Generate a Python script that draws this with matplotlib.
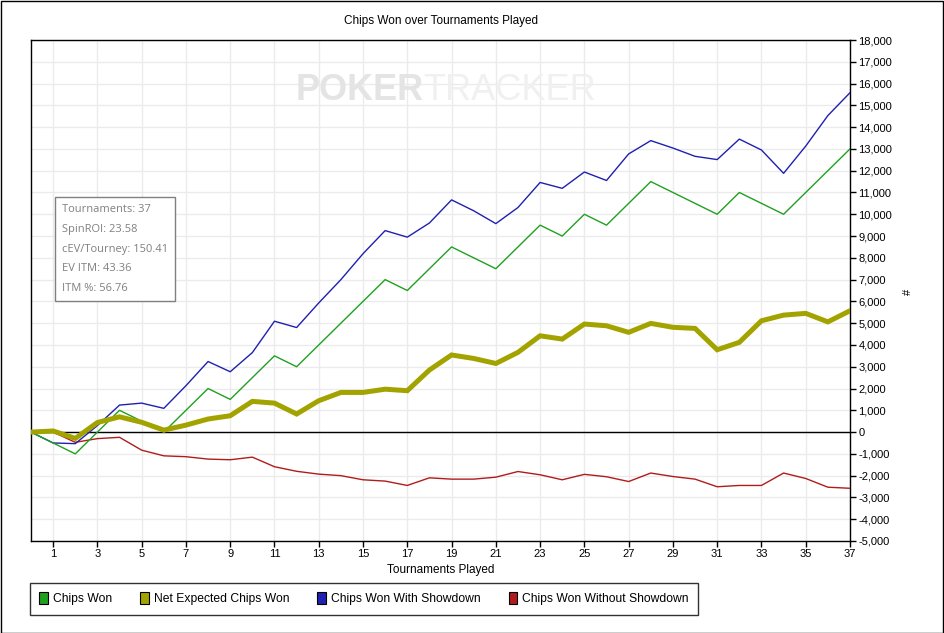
import matplotlib
matplotlib.use("Agg")
import matplotlib.pyplot as plt
from matplotlib.patches import Patch, Rectangle
from matplotlib.ticker import FuncFormatter, MultipleLocator

plt.rcParams['font.family'] = ['Liberation Sans', 'DejaVu Sans']

tournaments = list(range(0, 38))
chips_won = [0, -500, -1000, 0, 1000, 500, 0, 1000, 2000, 1500, 2500, 3500, 3000, 4000,
             5000, 6000, 7000, 6500, 7500, 8500, 8000, 7500, 8500, 9500, 9000, 10000,
             9500, 10500, 11500, 11000, 10500, 10000, 11000, 10500, 10000, 11000, 12000, 13000]
net_expected = [0, 50, -290, 440, 700, 450, 90, 320, 600, 750, 1410, 1330, 830, 1440,
                1820, 1820, 1970, 1900, 2850, 3540, 3380, 3150, 3660, 4420, 4270, 4960,
                4880, 4580, 4990, 4810, 4760, 3780, 4120, 5110, 5370, 5450, 5060, 5570]
with_showdown = [0, -500, -530, 300, 1240, 1330, 1090, 2130, 3240, 2770, 3650, 5090, 4800, 5930,
                 7000, 8190, 9250, 8950, 9600, 10660, 10160, 9570, 10310, 11460, 11190, 11940,
                 11550, 12770, 13380, 13040, 12660, 12510, 13450, 12950, 11880, 13130, 14530, 15580]
without_showdown = [0, 0, -470, -300, -240, -830, -1090, -1130, -1240, -1270, -1150, -1590, -1800, -1930,
                    -2000, -2190, -2250, -2450, -2100, -2160, -2160, -2070, -1810, -1960, -2190, -1940,
                    -2050, -2270, -1880, -2040, -2160, -2510, -2450, -2450, -1880, -2130, -2530, -2580]
x_ticks = list(range(1, 38, 2))
stats_lines = ["Tournaments: 37", "SpinROI: 23.58", "cEV/Tourney: 150.41", "EV ITM: 43.36", "ITM %: 56.76"]
series_labels = ["Chips Won", "Net Expected Chips Won", "Chips Won With Showdown", "Chips Won Without Showdown"]
colors = ["#20a020", "#a3a300", "#2020b0", "#b01c1c"]

W, H = 944, 633
fig = plt.figure(figsize=(W / 100, H / 100), dpi=100)
fig.patch.set_facecolor('white')
fig.patches.append(Rectangle((0.5 / W, 0.5 / H), 1 - 1.5 / W, 1 - 1.5 / H, transform=fig.transFigure,
                             fill=False, edgecolor='black', linewidth=1.0))

L, R, T, B = 31, 850, 40, 541
ax = fig.add_axes([L / W, 1 - B / H, (R - L) / W, (B - T) / H])

# grid
ax.set_xlim(0, 37)
ax.set_ylim(-5000, 18000)
ax.set_xticks(x_ticks)
ax.yaxis.set_major_locator(MultipleLocator(1000))
ax.grid(True, color='#ebebeb', linewidth=1.0)
ax.set_axisbelow(True)
ax.axhline(0, color='black', linewidth=1.0, zorder=2)

# watermark
ax.text(0.479, 0.900, "POKER", transform=ax.transAxes, ha='right', va='center',
        fontsize=26, fontweight='bold', color='#e4e4e4', zorder=1,
        family=['Liberation Sans Narrow', 'Liberation Sans'])
ax.text(0.479, 0.900, "TRACKER", transform=ax.transAxes, ha='left', va='center',
        fontsize=26, color='#f0f0f0', zorder=1,
        family=['Liberation Sans Narrow', 'Liberation Sans'])

ax.plot(tournaments, without_showdown, color=colors[3], linewidth=1.0, zorder=3)
ax.plot(tournaments, with_showdown, color=colors[2], linewidth=1.0, zorder=3)
ax.plot(tournaments, chips_won, color=colors[0], linewidth=1.0, zorder=4)
ax.plot(tournaments, net_expected, color=colors[1], linewidth=3.6, zorder=5, solid_joinstyle='miter')

ax.yaxis.tick_right()
ax.yaxis.set_label_position('right')
ax.yaxis.set_major_formatter(FuncFormatter(lambda v, p: f"{int(v):,}"))
ax.tick_params(axis='both', direction='out', length=4, width=1, labelsize=8, color='black', pad=2)
for s in ax.spines.values():
    s.set_color('black')
    s.set_linewidth(1.0)

ax.set_xlabel("Tournaments Played", fontsize=8.5, labelpad=3)
fig.text(908 / W, 1 - 292 / H, "#", fontsize=8, rotation=90, ha='center', va='center')
fig.text(0.5 * (L + R) / W + 0.0, 1 - 21 / H, "Chips Won over Tournaments Played",
         fontsize=8.5, ha='center', va='center')

# stats box
ax.text(0.038, 0.672, "\n".join(stats_lines), transform=ax.transAxes, ha='left', va='top',
        fontsize=8, color='#808080', linespacing=2.08, family=['Open Sans', 'DejaVu Sans'],
        bbox=dict(boxstyle='square,pad=0.62', facecolor='white', edgecolor='#808080', linewidth=1.0),
        zorder=6)

handles = [Patch(facecolor=c, edgecolor='black', linewidth=0.8) for c in colors]
leg = fig.legend(handles, series_labels, loc='upper left', bbox_to_anchor=(30 / W, 1 - 583 / H),
                 ncol=4, fontsize=8.7, frameon=True, fancybox=False, edgecolor='black',
                 handlelength=0.7, handleheight=1.1, handletextpad=0.4, columnspacing=2.35,
                 borderpad=0.78, borderaxespad=0)
leg.get_frame().set_linewidth(1.0)

fig.savefig("out.png", dpi=100)
